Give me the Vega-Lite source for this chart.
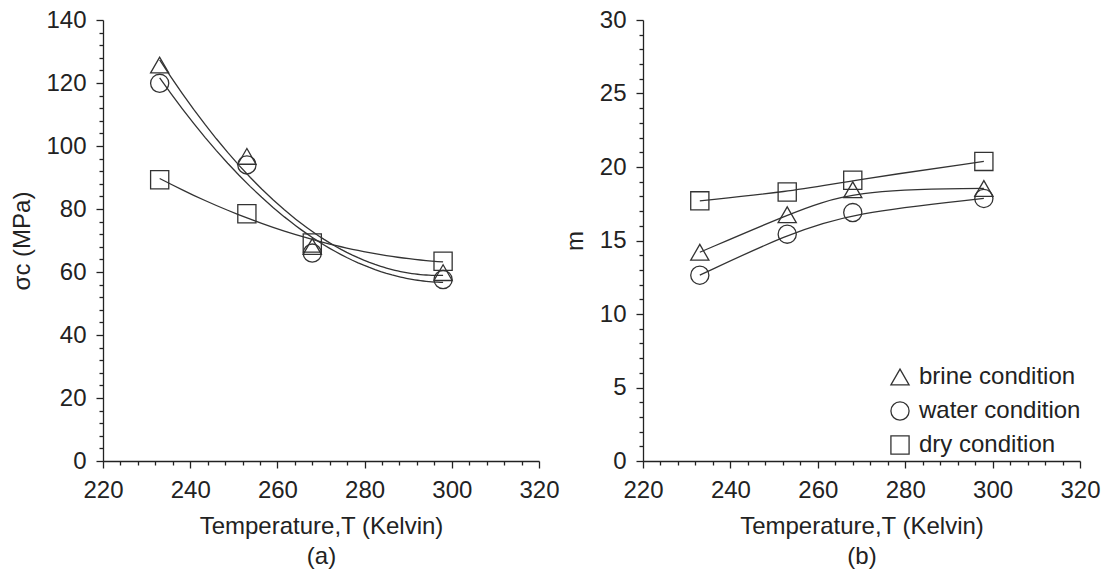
{
  "$schema": "https://vega.github.io/schema/vega-lite/v6.json",
  "background": "white",
  "padding": {"left": 10, "top": 8, "right": 5, "bottom": 5},
  "config": {
    "view": {"stroke": null},
    "font": "Liberation Sans",
    "axis": {
      "domainColor": "#222", "tickColor": "#222", "labelColor": "#222", "titleColor": "#222",
      "labelFontSize": 24, "titleFontSize": 24, "titleFontWeight": "normal",
      "labelFont": "Liberation Sans", "titleFont": "Liberation Sans",
      "grid": false, "domainWidth": 1.3, "tickWidth": 1.3
    },
    "legend": {
      "labelFont": "Liberation Sans", "labelFontSize": 24, "labelColor": "#222", "labelLimit": 0,
      "symbolSize": 330, "symbolStrokeWidth": 1.3, "symbolStrokeColor": "#333",
      "symbolFillColor": "transparent", "rowPadding": 10, "labelOffset": 7, "padding": 0
    }
  },
  "datasets": {
    "a": [
      {"condition": "brine condition", "T": 233, "val": 125.7},
      {"condition": "brine condition", "T": 253, "val": 96.7},
      {"condition": "brine condition", "T": 268, "val": 68.1},
      {"condition": "brine condition", "T": 298, "val": 59.8},
      {"condition": "water condition", "T": 233, "val": 119.9},
      {"condition": "water condition", "T": 253, "val": 94.0},
      {"condition": "water condition", "T": 268, "val": 66.0},
      {"condition": "water condition", "T": 298, "val": 57.6},
      {"condition": "dry condition", "T": 233, "val": 89.3},
      {"condition": "dry condition", "T": 253, "val": 78.5},
      {"condition": "dry condition", "T": 268, "val": 69.2},
      {"condition": "dry condition", "T": 298, "val": 63.4}
    ],
    "b": [
      {"condition": "brine condition", "T": 233, "val": 14.2},
      {"condition": "brine condition", "T": 253, "val": 16.75},
      {"condition": "brine condition", "T": 268, "val": 18.45},
      {"condition": "brine condition", "T": 298, "val": 18.54},
      {"condition": "water condition", "T": 233, "val": 12.64},
      {"condition": "water condition", "T": 253, "val": 15.43},
      {"condition": "water condition", "T": 268, "val": 16.9},
      {"condition": "water condition", "T": 298, "val": 17.86},
      {"condition": "dry condition", "T": 233, "val": 17.7},
      {"condition": "dry condition", "T": 253, "val": 18.3},
      {"condition": "dry condition", "T": 268, "val": 19.1},
      {"condition": "dry condition", "T": 298, "val": 20.38}
    ]
  },
  "bounds": "flush",
  "spacing": 104,
  "resolve": {"scale": {"shape": "independent"}, "legend": {"shape": "independent"}},
  "hconcat": [
    {
      "width": 436,
      "height": 441,
      "data": {"name": "a"},
      "encoding": {
        "x": {
          "field": "T", "type": "quantitative",
          "scale": {"domain": [220, 320], "nice": false, "zero": false},
          "axis": {
            "title": ["Temperature,T (Kelvin)", "(a)"],
            "titleLineHeight": 30, "titlePadding": 12,
            "values": [220,224,228,232,236,240,244,248,252,256,260,264,268,272,276,280,284,288,292,296,300,304,308,312,316,320],
            "labelExpr": "datum.value % 20 === 0 ? datum.label : ''",
            "tickSize": {"condition": {"test": "datum.value % 20 === 0", "value": 7}, "value": 4},
            "labelPadding": 10, "labelFlush": false, "labelOverlap": false
          }
        },
        "y": {
          "field": "val", "type": "quantitative",
          "scale": {"domain": [0, 140], "nice": false},
          "axis": {
            "title": "σc (MPa)",
            "titlePadding": 11,
            "values": [0,4,8,12,16,20,24,28,32,36,40,44,48,52,56,60,64,68,72,76,80,84,88,92,96,100,104,108,112,116,120,124,128,132,136,140],
            "labelExpr": "datum.value % 20 === 0 ? datum.label : ''",
            "tickSize": {"condition": {"test": "datum.value % 20 === 0", "value": 7}, "value": 4},
            "labelPadding": 10, "labelFlush": false, "labelOverlap": false
          }
        }
      },
      "layer": [
        {
          "transform": [{"regression": "val", "on": "T", "groupby": ["condition"], "method": "poly", "order": 2, "extent": [233, 298]}],
          "mark": {"type": "line", "color": "#333", "strokeWidth": 1.3},
          "encoding": {"detail": {"field": "condition"}}
        },
        {
          "mark": {"type": "point", "filled": false, "color": "#333", "size": 330, "strokeWidth": 1.3, "opacity": 1},
          "encoding": {
            "shape": {
              "field": "condition", "type": "nominal",
              "scale": {"domain": ["brine condition", "water condition", "dry condition"], "range": ["triangle-up", "circle", "square"]},
              "legend": null
            }
          }
        }
      ]
    },
    {
      "width": 437,
      "height": 441,
      "data": {"name": "b"},
      "encoding": {
        "x": {
          "field": "T", "type": "quantitative",
          "scale": {"domain": [220, 320], "nice": false, "zero": false},
          "axis": {
            "title": ["Temperature,T (Kelvin)", "(b)"],
            "titleLineHeight": 30, "titlePadding": 12,
            "values": [220,224,228,232,236,240,244,248,252,256,260,264,268,272,276,280,284,288,292,296,300,304,308,312,316,320],
            "labelExpr": "datum.value % 20 === 0 ? datum.label : ''",
            "tickSize": {"condition": {"test": "datum.value % 20 === 0", "value": 7}, "value": 4},
            "labelPadding": 10, "labelFlush": false, "labelOverlap": false
          }
        },
        "y": {
          "field": "val", "type": "quantitative",
          "scale": {"domain": [0, 30], "nice": false},
          "axis": {
            "title": "m",
            "titlePadding": 12,
            "values": [0,1,2,3,4,5,6,7,8,9,10,11,12,13,14,15,16,17,18,19,20,21,22,23,24,25,26,27,28,29,30],
            "labelExpr": "datum.value % 5 === 0 ? datum.label : ''",
            "tickSize": {"condition": {"test": "datum.value % 5 === 0", "value": 7}, "value": 4},
            "labelPadding": 10, "labelFlush": false, "labelOverlap": false
          }
        }
      },
      "layer": [
        {
          "mark": {"type": "line", "color": "#333", "strokeWidth": 1.3, "interpolate": "basis"},
          "encoding": {"detail": {"field": "condition"}}
        },
        {
          "mark": {"type": "point", "filled": false, "color": "#333", "size": 330, "strokeWidth": 1.3, "opacity": 1},
          "encoding": {
            "shape": {
              "field": "condition", "type": "nominal",
              "scale": {"domain": ["brine condition", "water condition", "dry condition"], "range": ["triangle-up", "circle", "square"]},
              "legend": {"title": null, "orient": "none", "legendX": 245, "legendY": 345}
            }
          }
        }
      ]
    }
  ]
}
